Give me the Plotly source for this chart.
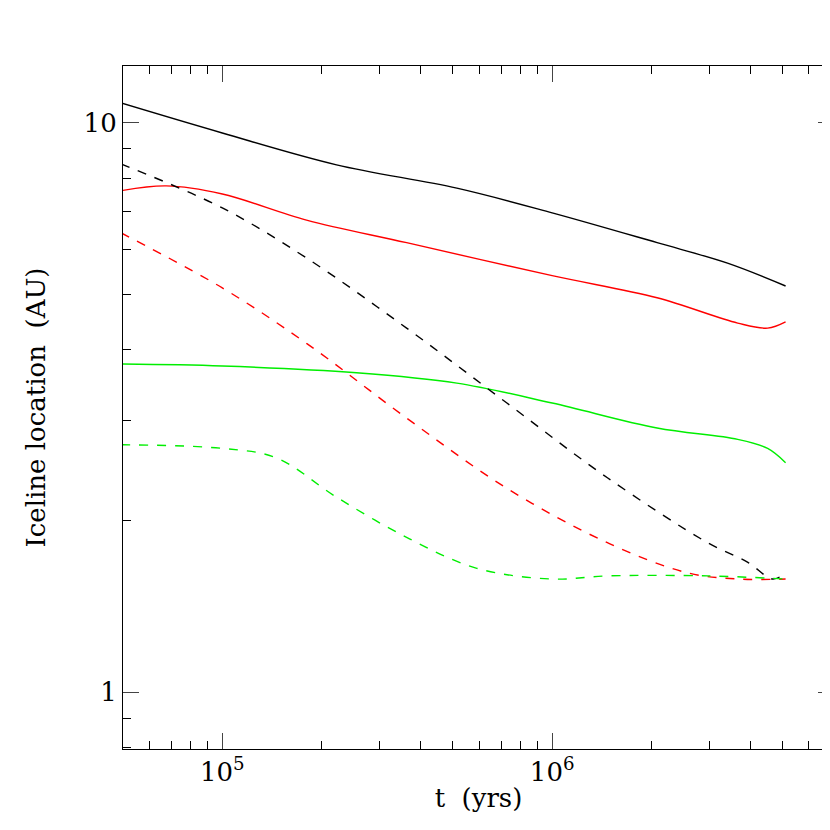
import plotly.graph_objects as go
import numpy as np

t_bs = [49300, 100000, 222000, 514000, 1000000, 2080000, 3400000, 5100000]
v_bs = [10.84, 9.6, 8.44, 7.68, 6.95, 6.16, 5.67, 5.17]
t_rs = [49300, 67600, 100000, 180000, 362000, 1000000, 2080000, 3650000, 4500000, 5100000]
v_rs = [7.6, 7.75, 7.5, 6.75, 6.16, 5.39, 4.93, 4.45, 4.36, 4.47]
t_gs = [49300, 100000, 255000, 514000, 1000000, 2080000, 3650000, 4500000, 5100000]
v_gs = [3.77, 3.74, 3.64, 3.49, 3.22, 2.91, 2.78, 2.68, 2.53]
t_bd = [49300, 100000, 180000, 362000, 729000, 1470000, 2960000, 3920000, 4660000, 5100000]
v_bd = [8.47, 7.09, 5.79, 4.36, 3.22, 2.38, 1.83, 1.69, 1.58, 1.62]
t_rd = [49300, 100000, 180000, 362000, 729000, 1470000, 2570000, 3650000, 5100000]
v_rd = [6.41, 5.13, 4.1, 3.03, 2.28, 1.83, 1.62, 1.58, 1.58]
t_gd = [49300, 100000, 145800, 222000, 362000, 591000, 1000000, 1470000, 2960000, 5100000]
v_gd = [2.72, 2.68, 2.58, 2.2, 1.87, 1.65, 1.58, 1.60, 1.60, 1.58]

series = [
    (t_bs, v_bs, "black", "solid"), (t_rs, v_rs, "red", "solid"), (t_gs, v_gs, "#00ee00", "solid"),
    (t_bd, v_bd, "black", "dash"), (t_rd, v_rd, "red", "dash"), (t_gd, v_gd, "#00ee00", "dash"),
]
fig = go.Figure()
for t, v, c, d in series:
    fig.add_trace(go.Scatter(x=t, y=v, mode="lines", line=dict(color=c, dash=d, width=1.4, shape="spline", smoothing=1.0), showlegend=False))

font = dict(family="DejaVu Serif", size=26, color="black")
xminor = [m * 10**e for e in (4, 5, 6) for m in range(2, 10) if 5e4 <= m * 10**e <= 7e6]
yminor = [m * 10**e for e in (-1, 0, 1) for m in range(2, 10) if 0.79 <= m * 10**e <= 12.6]
fig.update_xaxes(type="log", range=[np.log10(5e4), np.log10(7.15e6)], tickvals=[1e5, 1e6],
                 ticktext=["10<sup>5</sup>", "10<sup>6</sup>"], ticks="inside", ticklen=16, mirror="allticks",
                 showline=True, linecolor="black", linewidth=1.2, showgrid=False, zeroline=False, automargin=False,
                 minor=dict(tickvals=xminor, ticks="inside", ticklen=8, tickcolor="black", showgrid=False),
                 title=dict(text="t  (yrs)", font=font, standoff=2), tickfont=font)
fig.update_yaxes(type="log", range=[-0.1, 1.1], tickvals=[1, 10], ticktext=["1", "10"], ticks="inside", ticklen=16,
                 mirror="allticks", showline=True, linecolor="black", linewidth=1.2, showgrid=False, zeroline=False,
                 automargin=False,
                 minor=dict(tickvals=yminor, ticks="inside", ticklen=8, tickcolor="black", showgrid=False),
                 title=dict(text="Iceline location  (AU)", font=font, standoff=30), tickfont=font)
fig.update_layout(width=830, height=830, margin=dict(l=115, r=4, t=58, b=89),
                  plot_bgcolor="white", paper_bgcolor="white")
fig.write_html("out.html")
